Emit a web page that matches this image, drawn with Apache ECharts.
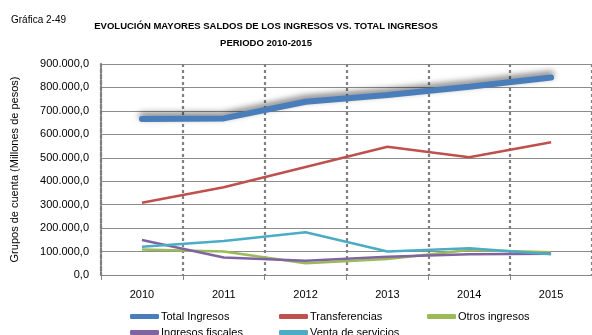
<!DOCTYPE html>
<html>
<head>
<meta charset="utf-8">
<script src="https://cdn.jsdelivr.net/npm/echarts@6/dist/echarts.min.js"></script>
<style>
  html, body { margin: 0; padding: 0; background: #fff; }
  #chart { width: 592px; height: 335px; }
</style>
</head>
<body>
<div id="chart"></div>
<script>
// Años (categorías del eje X)
const years = ['2010', '2011', '2012', '2013', '2014', '2015'];

// Valores en millones de pesos
const totalIngresos    = [665000, 668000, 739000, 768000, 803000, 842000];
const transferencias   = [308000, 374000, 461000, 547000, 502000, 566000];
const otrosIngresos    = [109000, 100000, 50000, 68000, 107000, 97000];
const ingresosFiscales = [149000, 75000, 61000, 78000, 88000, 91000];
const ventaServicios   = [121000, 145000, 182000, 100000, 114000, 88000];

// Marcas del eje Y
const yTicks = { min: 0, max: 900000, interval: 100000 };

const FONT = 'Liberation Sans';

function fmt(v) {
  const s = Math.round(v).toString().replace(/\B(?=(\d{3})+(?!\d))/g, '.');
  return s + ',0';
}

const chart = echarts.init(document.getElementById('chart'), null, { renderer: 'canvas' });

function legendAt(name, left, top) {
  return {
    data: [name], left: left, top: top, orient: 'horizontal',
    itemWidth: 29, itemHeight: 5, itemGap: 0,
    icon: 'roundRect',
    textStyle: { fontFamily: FONT, fontSize: 11, color: '#000', padding: [0, 0, 0, -3] },
    padding: 0
  };
}

const option = {
  animation: false,
  backgroundColor: '#fff',
  textStyle: { fontFamily: FONT },
  title: [
    {
      text: 'Gráfica 2-49', left: 6, top: 10,
      textStyle: { fontFamily: FONT, fontSize: 10, fontWeight: 'normal', color: '#000' }
    },
    {
      text: 'EVOLUCIÓN MAYORES SALDOS DE LOS INGRESOS VS. TOTAL INGRESOS\nPERIODO 2010-2015',
      left: 261, top: 13, textAlign: 'center',
      textStyle: { fontFamily: FONT, fontSize: 9.5, fontWeight: 'bold', color: '#000', lineHeight: 17 }
    }
  ],
  legend: [
    legendAt('Total Ingresos', 130, 311),
    legendAt('Transferencias', 279, 311),
    legendAt('Otros ingresos', 427, 311),
    legendAt('Ingresos fiscales', 130, 327),
    legendAt('Venta de servicios', 279, 327)
  ],
  grid: { left: 101, right: -1, top: 64, bottom: 60, containLabel: false },
  xAxis: {
    type: 'category',
    data: years,
    boundaryGap: true,
    axisLine: { lineStyle: { color: '#868686', width: 1 } },
    axisTick: { show: true, length: 5, lineStyle: { color: '#868686' } },
    axisLabel: { fontFamily: FONT, fontSize: 11, color: '#000', margin: 14 },
    splitLine: { show: true, lineStyle: { color: '#808080', width: 2.2, type: [3, 3] } }
  },
  yAxis: {
    type: 'value',
    min: yTicks.min, max: yTicks.max, interval: yTicks.interval,
    name: 'Grupos de cuenta (Millones de pesos)',
    nameLocation: 'middle', nameGap: 81, nameRotate: 90,
    nameTextStyle: { fontFamily: FONT, fontSize: 11, color: '#000' },
    axisLine: { show: true, lineStyle: { color: '#808080', width: 2.2, type: [3, 3] } },
    axisTick: { show: false },
    axisLabel: { fontFamily: FONT, fontSize: 11, color: '#000', margin: 12, formatter: fmt },
    splitLine: { show: true, lineStyle: { color: '#8c8c8c', width: 1 } }
  },
  series: [
    {
      name: 'Total Ingresos', type: 'line', data: totalIngresos,
      symbol: 'none', color: '#4a7ebb', z: 5,
      lineStyle: { width: 6, color: '#4a7ebb', cap: 'round',
        shadowColor: 'rgba(0,0,0,0.55)', shadowBlur: 6, shadowOffsetX: 0, shadowOffsetY: -3 }
    },
    {
      name: 'Transferencias', type: 'line', data: transferencias,
      symbol: 'none', color: '#c0504d', lineStyle: { width: 2.5, color: '#c0504d' }
    },
    {
      name: 'Otros ingresos', type: 'line', data: otrosIngresos,
      symbol: 'none', color: '#9bbb59', lineStyle: { width: 2.5, color: '#9bbb59' }
    },
    {
      name: 'Ingresos fiscales', type: 'line', data: ingresosFiscales,
      symbol: 'none', color: '#8064a2', lineStyle: { width: 2.5, color: '#8064a2' }
    },
    {
      name: 'Venta de servicios', type: 'line', data: ventaServicios,
      symbol: 'none', color: '#4bacc6', lineStyle: { width: 2.5, color: '#4bacc6' }
    }
  ]
};

chart.setOption(option);
</script>
</body>
</html>
